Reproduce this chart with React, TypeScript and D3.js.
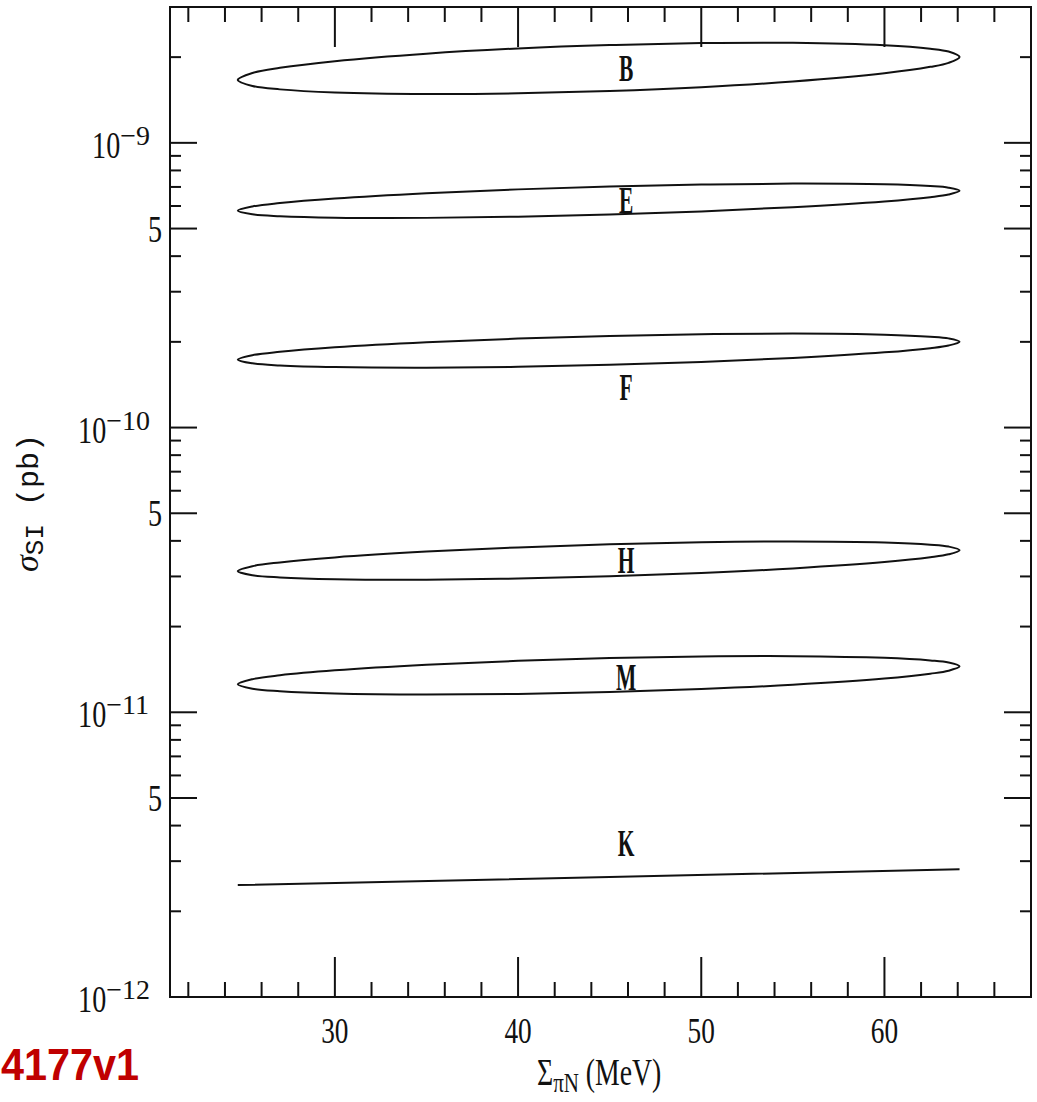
import * as d3 from 'd3';

const sigmaPiN = [24.7, 25.5, 27, 30, 35, 40, 45, 50, 55, 60, 62.5, 63.5, 64.1];

// upper / lower edges of each contour, sigma_SI in pb
const B_upper = [1.663e-9, 1.759e-9, 1.834e-9, 1.936e-9, 2.057e-9, 2.145e-9, 2.205e-9, 2.241e-9, 2.246e-9, 2.202e-9, 2.141e-9, 2.092e-9, 2.004e-9];
const B_lower = [1.663e-9, 1.584e-9, 1.541e-9, 1.503e-9, 1.484e-9, 1.492e-9, 1.521e-9, 1.569e-9, 1.642e-9, 1.755e-9, 1.849e-9, 1.910e-9, 2.004e-9];

const E_upper = [5.772e-10, 5.978e-10, 6.144e-10, 6.372e-10, 6.651e-10, 6.864e-10, 7.025e-10, 7.138e-10, 7.191e-10, 7.150e-10, 7.048e-10, 6.958e-10, 6.786e-10];
const E_lower = [5.772e-10, 5.610e-10, 5.527e-10, 5.461e-10, 5.451e-10, 5.505e-10, 5.603e-10, 5.745e-10, 5.943e-10, 6.228e-10, 6.446e-10, 6.584e-10, 6.786e-10];

const F_upper = [1.732e-10, 1.796e-10, 1.846e-10, 1.914e-10, 1.995e-10, 2.054e-10, 2.099e-10, 2.128e-10, 2.138e-10, 2.120e-10, 2.086e-10, 2.057e-10, 2.003e-10];
const F_lower = [1.732e-10, 1.681e-10, 1.653e-10, 1.631e-10, 1.623e-10, 1.635e-10, 1.661e-10, 1.700e-10, 1.755e-10, 1.837e-10, 1.901e-10, 1.942e-10, 2.003e-10];

const H_upper = [3.131e-11, 3.259e-11, 3.360e-11, 3.499e-11, 3.667e-11, 3.794e-11, 3.890e-11, 3.953e-11, 3.980e-11, 3.946e-11, 3.879e-11, 3.820e-11, 3.711e-11];
const H_lower = [3.131e-11, 3.030e-11, 2.977e-11, 2.934e-11, 2.923e-11, 2.949e-11, 3.004e-11, 3.085e-11, 3.201e-11, 3.369e-11, 3.502e-11, 3.587e-11, 3.711e-11];

const M_upper = [1.254e-11, 1.307e-11, 1.349e-11, 1.404e-11, 1.469e-11, 1.516e-11, 1.550e-11, 1.570e-11, 1.574e-11, 1.553e-11, 1.521e-11, 1.496e-11, 1.450e-11];
const M_lower = [1.254e-11, 1.210e-11, 1.186e-11, 1.164e-11, 1.154e-11, 1.160e-11, 1.178e-11, 1.207e-11, 1.249e-11, 1.313e-11, 1.366e-11, 1.399e-11, 1.450e-11];

// K collapses to a line
const K_x = [24.7, 45, 64.1];
const K_sigma = [2.472e-12, 2.637e-12, 2.812e-12];

const labelNames = ['B', 'E', 'F', 'H', 'M', 'K'];
const labelX = 45.9;
const labelSigma = [1.811e-9, 6.233e-10, 1.376e-10, 3.386e-11, 1.321e-11, 3.456e-12];

const xMajorTicks = [30, 40, 50, 60];
const xMinorTicks = [22, 24, 26, 28, 32, 34, 36, 38, 42, 44, 46, 48, 52, 54, 56, 58, 62, 64, 66];
const yDecades = [1e-12, 1e-11, 1e-10, 1e-9];
const yDecadeExp = ['\u221212', '\u221211', '\u221210', '\u22129'];
const yFives = [5e-12, 5e-11, 5e-10];

const ellipses = [
  { name: 'B', upper: B_upper, lower: B_lower },
  { name: 'E', upper: E_upper, lower: E_lower },
  { name: 'F', upper: F_upper, lower: F_lower },
  { name: 'H', upper: H_upper, lower: H_lower },
  { name: 'M', upper: M_upper, lower: M_lower },
];

const W = 1037;
const H = 1102;
const left = 170, right = 1031, top = 7, bottom = 997;
const serif = "'Liberation Serif', 'DejaVu Serif', serif";
const mono = "'Liberation Mono', 'DejaVu Sans Mono', monospace";
const ink = '#111';

export default function App() {
  const x = d3.scaleLinear().domain([21, 68]).range([left, right]);
  const y = d3.scaleLog().domain([1e-12, 3e-9]).range([bottom, top]);

  const closed = d3.line<[number, number]>()
    .x((d) => x(d[0]))
    .y((d) => y(d[1]))
    .curve(d3.curveCatmullRomClosed.alpha(0.5));

  const open = d3.line<[number, number]>()
    .x((d) => x(d[0]))
    .y((d) => y(d[1]));

  const ellipsePath = (upper: number[], lower: number[]) => {
    const pts: [number, number][] = sigmaPiN.map((s, i) => [s, upper[i]]);
    for (let i = sigmaPiN.length - 2; i >= 1; i--) pts.push([sigmaPiN[i], lower[i]]);
    return closed(pts) || '';
  };

  // minor log ticks from the scale itself
  const yMinor = y.ticks().filter((v) => {
    const e = Math.floor(Math.log10(v) + 1e-9);
    const m = Math.round(v / Math.pow(10, e));
    return m !== 1 && m !== 5;
  });

  const expW = (s: string) => 28 * (0.564 + 0.5 * (s.length - 1));

  return (
    <svg width={W} height={H} style={{ position: 'absolute', left: 0, top: 0, background: '#fff' }}>
      <rect x={0} y={0} width={W} height={H} fill="#fff" />

      {/* contours */}
      {ellipses.map((e) => (
        <path key={e.name} d={ellipsePath(e.upper, e.lower)} fill="none" stroke={ink} strokeWidth={2} />
      ))}
      <path d={open(K_x.map((v, i) => [v, K_sigma[i]] as [number, number])) || ''} fill="none" stroke={ink} strokeWidth={2} />

      {/* contour labels */}
      {labelNames.map((n, i) => (
        <text
          key={n}
          transform={`translate(${x(labelX)},${y(labelSigma[i]) + 12}) scale(0.58,1)`}
          textAnchor="middle"
          fontFamily={serif}
          fontWeight="bold"
          fontSize={37}
          fill={ink}
        >
          {n}
        </text>
      ))}

      {/* x ticks, bottom and top */}
      {xMajorTicks.map((t) => (
        <g key={'xM' + t} stroke={ink} strokeWidth={2}>
          <line x1={x(t)} x2={x(t)} y1={bottom} y2={bottom - 40} />
          <line x1={x(t)} x2={x(t)} y1={top} y2={top + 40} />
        </g>
      ))}
      {xMinorTicks.map((t) => (
        <g key={'xm' + t} stroke={ink} strokeWidth={2}>
          <line x1={x(t)} x2={x(t)} y1={bottom} y2={bottom - 15} />
          <line x1={x(t)} x2={x(t)} y1={top} y2={top + 15} />
        </g>
      ))}

      {/* y ticks, left and right */}
      {[...yDecades, ...yFives].map((t) => (
        <g key={'yM' + t} stroke={ink} strokeWidth={2}>
          <line x1={left} x2={left + 27} y1={y(t)} y2={y(t)} />
          <line x1={right} x2={right - 27} y1={y(t)} y2={y(t)} />
        </g>
      ))}
      {yMinor.map((t) => (
        <g key={'ym' + t} stroke={ink} strokeWidth={2}>
          <line x1={left} x2={left + 11} y1={y(t)} y2={y(t)} />
          <line x1={right} x2={right - 11} y1={y(t)} y2={y(t)} />
        </g>
      ))}

      {/* frame */}
      <rect x={left} y={top} width={right - left} height={bottom - top} fill="none" stroke={ink} strokeWidth={2} />

      {/* x tick labels */}
      {xMajorTicks.map((t) => (
        <text
          key={'xl' + t}
          transform={`translate(${x(t)},1043) scale(0.78,1)`}
          textAnchor="middle"
          fontFamily={serif}
          fontSize={35}
          fill={ink}
        >
          {t}
        </text>
      ))}

      {/* y tick labels: powers of ten */}
      {yDecades.map((t, i) => {
        const junction = 150 - expW(yDecadeExp[i]);
        return (
          <g key={'yl' + t} fill={ink} fontFamily={serif}>
            <text transform={`translate(${junction},${y(t) + 15}) scale(0.76,1)`} textAnchor="end" fontSize={37}>
              10
            </text>
            <text x={junction} y={y(t) + 2} textAnchor="start" fontSize={28}>
              {yDecadeExp[i]}
            </text>
          </g>
        );
      })}
      {yFives.map((t) => (
        <text
          key={'y5' + t}
          transform={`translate(162,${y(t) + 13}) scale(0.76,1)`}
          textAnchor="end"
          fontFamily={serif}
          fontSize={37}
          fill={ink}
        >
          5
        </text>
      ))}

      {/* axis titles */}
      <text transform="translate(38,503) rotate(-90)" textAnchor="middle" fill={ink}>
        <tspan fontFamily={serif} fontStyle="italic" fontSize={34}>σ</tspan>
        <tspan fontFamily={mono} fontSize={26} dy={5}>SI</tspan>
        <tspan fontFamily={mono} fontSize={30} dy={-5}>{'\u00a0(pb)'}</tspan>
      </text>
      <text transform="translate(537,1085) scale(0.75,1)" fill={ink} fontFamily={serif}>
        <tspan fontSize={37}>Σ</tspan>
        <tspan fontSize={28} dy={7}>πN</tspan>
        <tspan fontSize={37} dy={-7}>{'\u00a0(MeV)'}</tspan>
      </text>

      {/* arXiv stamp fragment */}
      <text
        transform="translate(1,1080) scale(0.92,1)"
        textAnchor="start"
        fill="#c00000"
        fontFamily="'Liberation Sans', Arial, sans-serif"
        fontWeight="bold"
        fontSize={45}
      >
        4177v1
      </text>
    </svg>
  );
}
